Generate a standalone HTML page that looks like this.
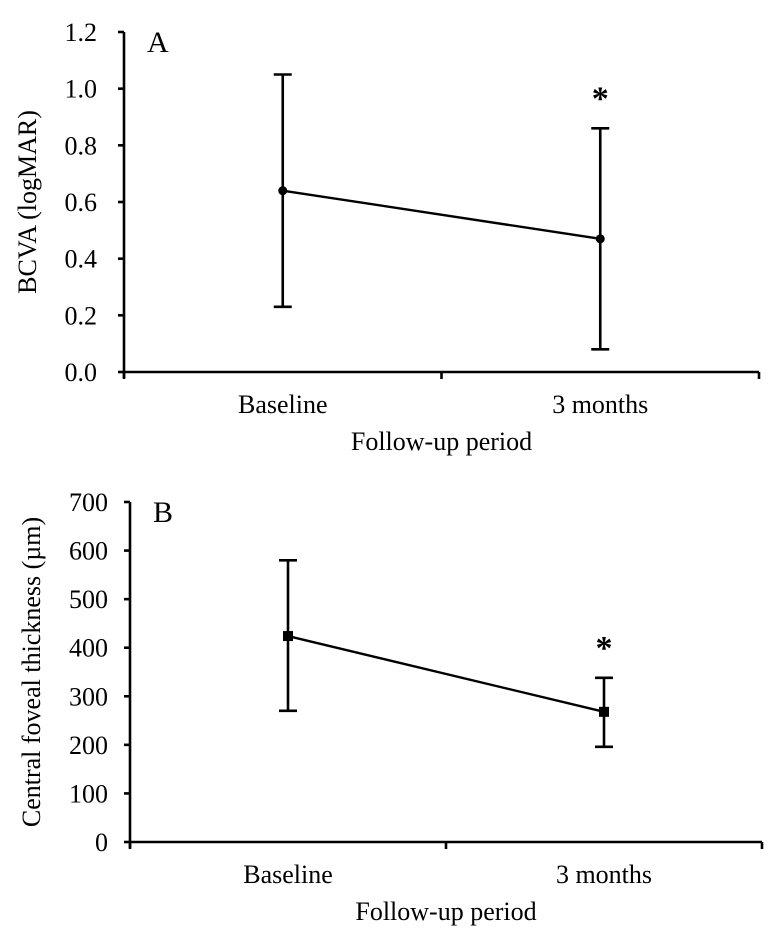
<!DOCTYPE html>
<html><head><meta charset="utf-8"><style>
html,body{margin:0;padding:0;background:#fff}
svg{display:block}
text{font-family:"Liberation Serif",serif;fill:#000}
</style></head><body>
<svg id="chart" width="779" height="944" viewBox="0 0 779 944" xmlns="http://www.w3.org/2000/svg"></svg>
<script>
const categories = ["Baseline", "3 months"];
const bcvaMean = [0.64, 0.47];
const bcvaUpper = [1.05, 0.86];
const bcvaLower = [0.23, 0.08];
const bcvaTicks = ["0.0","0.2","0.4","0.6","0.8","1.0","1.2"];
const bcvaTickValues = [0,0.2,0.4,0.6,0.8,1.0,1.2];
const cftMean = [424, 268];
const cftUpper = [580, 338];
const cftLower = [270, 196];
const cftTicks = ["0","100","200","300","400","500","600","700"];
const cftTickValues = [0,100,200,300,400,500,600,700];
const significant = [false, true];

const NS = "http://www.w3.org/2000/svg";
const svg = document.getElementById('chart');
function mk(tag, attrs, parent, text){
  const e = document.createElementNS(NS, tag);
  for (const k in attrs) e.setAttribute(k, attrs[k]);
  if (text !== undefined) e.textContent = text;
  (parent||svg).appendChild(e);
  return e;
}
function panel(cfg){
  const g = mk('g', {});
  
  
  const y = v => cfg.y0 - (v - cfg.min) / (cfg.max - cfg.min) * (cfg.y0 - cfg.y1);
  const bw = (cfg.x1 - cfg.x0) / categories.length;
  const x = i => cfg.x0 + bw * (i + 0.5);
  const st = {stroke:'#000','stroke-width':2.6,fill:'none'};
  const fs = 26;
  const ya = mk('line', Object.assign({x1:cfg.x0,x2:cfg.x0,y1:cfg.y1,y2:cfg.y0+6}, st), g);
  
  
  const xa = mk('line', Object.assign({x1:cfg.x0,x2:cfg.x1,y1:cfg.y0,y2:cfg.y0}, st), g);
  
  
  cfg.tickValues.forEach((v,i)=>{
    mk('line', Object.assign({x1:cfg.x0-6,x2:cfg.x0,y1:y(v),y2:y(v)}, st), g);
    const t = mk('text', {x:cfg.labelX, y:y(v)+9, 'text-anchor':'end', 'font-size':fs}, g, cfg.ticks[i]);
    
    
  });
  for (let i=0;i<=categories.length;i++){
    mk('line', Object.assign({x1:cfg.x0+bw*i,x2:cfg.x0+bw*i,y1:cfg.y0,y2:cfg.y0+7}, st), g);
  }
  categories.forEach((c,i)=>{
    const t = mk('text', {x:x(i), y:cfg.y0+41, 'text-anchor':'middle', 'font-size':fs}, g, c);
    
    
  });
  const xt = mk('text', {x:(cfg.x0+cfg.x1)/2, y:cfg.y0+78, 'text-anchor':'middle', 'font-size':fs}, g, 'Follow-up period');
  
  
  const cy = (cfg.y0+cfg.y1)/2;
  const yt = mk('text', {x:cfg.titleX, y:cy, 'text-anchor':'middle', 'font-size':fs, transform:`rotate(-90 ${cfg.titleX} ${cy})`}, g, cfg.title);
  
  
  const pl = mk('text', {x:cfg.x0+23, y:cfg.y1+20, 'font-size':30}, g, cfg.letter);
  
  
  const line = mk('polyline', {points:cfg.mean.map((v,i)=>x(i)+','+y(v)).join(' '), stroke:'#000','stroke-width':2.4, fill:'none'}, g);
  
  
  categories.forEach((c,i)=>{
    const eb = mk('g', {}, g);
    
    
    mk('line', Object.assign({x1:x(i),x2:x(i),y1:y(cfg.upper[i]),y2:y(cfg.lower[i])}, st), eb);
    mk('line', Object.assign({x1:x(i)-9,x2:x(i)+9,y1:y(cfg.upper[i]),y2:y(cfg.upper[i])}, st), eb);
    mk('line', Object.assign({x1:x(i)-9,x2:x(i)+9,y1:y(cfg.lower[i]),y2:y(cfg.lower[i])}, st), eb);
    let m;
    if (cfg.marker==='circle') m = mk('circle', {cx:x(i), cy:y(cfg.mean[i]), r:4.5, fill:'#000'}, g);
    else m = mk('rect', {x:x(i)-5, y:y(cfg.mean[i])-5, width:10, height:10, fill:'#000'}, g);
    
    
    if (significant[i]){
      const a = mk('text', {x:x(i), y:y(cfg.upper[i])-cfg.starGap, 'text-anchor':'middle', 'font-size':34, 'font-weight':'bold'}, g, '*');
      
      
    }
  });
}
panel({name:'panel-a-bcva', letter:'A', x0:124, x1:759, y0:372, y1:32, min:0, max:1.2,
  ticks:bcvaTicks, tickValues:bcvaTickValues, mean:bcvaMean, upper:bcvaUpper, lower:bcvaLower,
  labelX:97, titleX:36, title:'BCVA (logMAR)', marker:'circle', starGap:19});
panel({name:'panel-b-cft', letter:'B', x0:130, x1:762, y0:842, y1:502, min:0, max:700,
  ticks:cftTicks, tickValues:cftTickValues, mean:cftMean, upper:cftUpper, lower:cftLower,
  labelX:108, titleX:40, title:'Central foveal thickness (µm)', marker:'square', starGap:19});
</script>
</body></html>
